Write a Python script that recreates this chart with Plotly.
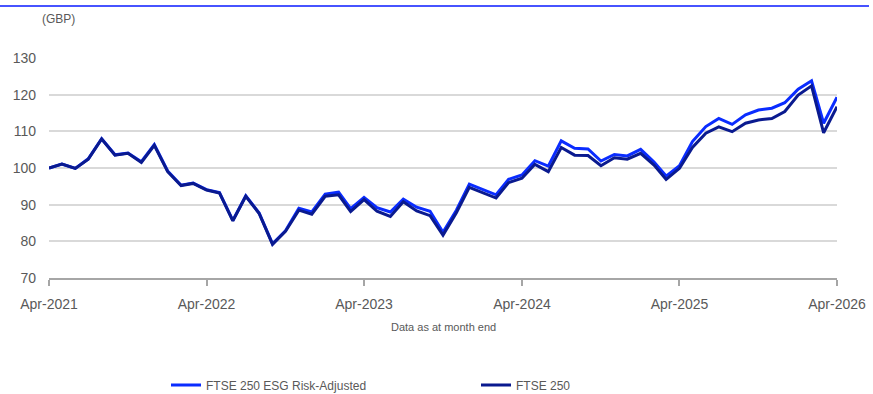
import plotly.graph_objects as go
import pandas as pd

dates = pd.date_range("2021-04-01", "2026-04-01", freq="MS").strftime("%Y-%m-%d").tolist()

ftse250 = [100.0, 101.1, 99.9, 102.4, 107.9, 103.5, 104.0, 101.5, 106.2, 99.0,
           95.2, 95.8, 94.0, 93.2, 85.6, 92.3, 87.6, 79.2, 82.7, 88.5,
           87.4, 92.3, 92.7, 88.1, 91.4, 88.2, 86.8, 90.8, 88.3, 87.0,
           81.7, 87.8, 94.7, 93.2, 91.8, 96.0, 97.2, 101.0, 99.0, 105.6,
           103.5, 103.4, 100.6, 102.8, 102.4, 104.0, 100.8, 96.9, 99.9, 105.6,
           109.5, 111.2, 109.9, 112.2, 113.1, 113.5, 115.4, 119.9, 122.4, 109.6,
           116.7]
esg_risk_adj = [100.0, 101.1, 99.9, 102.5, 108.0, 103.6, 104.1, 101.7, 106.4, 99.2,
                95.3, 95.9, 94.1, 93.3, 85.7, 92.4, 87.7, 79.3, 82.9, 89.0,
                88.0, 92.9, 93.4, 88.9, 92.0, 89.2, 88.0, 91.5, 89.3, 88.2,
                82.5, 88.5, 95.6, 94.1, 92.7, 96.9, 98.1, 102.0, 100.5, 107.4,
                105.4, 105.2, 101.9, 103.7, 103.3, 105.1, 101.6, 97.8, 100.6, 107.2,
                111.3, 113.5, 111.9, 114.5, 115.8, 116.3, 117.8, 121.5, 123.8, 112.2,
                119.3]

tick_dates = ["2021-04-01", "2022-04-01", "2023-04-01", "2024-04-01", "2025-04-01", "2026-04-01"]
tick_labels = ["Apr-2021", "Apr-2022", "Apr-2023", "Apr-2024", "Apr-2025", "Apr-2026"]
y_ticks = [70, 80, 90, 100, 110, 120, 130]

FONT = "Liberation Sans, Arial, sans-serif"
GREY = "#595959"

fig = go.Figure()
fig.add_trace(go.Scatter(x=dates, y=esg_risk_adj, mode="lines", name="FTSE 250 ESG Risk-Adjusted",
                         line=dict(color="#0a2cff", width=3)))
fig.add_trace(go.Scatter(x=dates, y=ftse250, mode="lines", name="FTSE 250",
                         line=dict(color="#0a1a8f", width=3)))

W, H = 873, 394
L, R, T, B = 49, 36, 58, 116
pw, ph = W - L - R, H - T - B

def px_x(p):
    return (p - L) / pw

def px_y(p):
    return (H - B - p) / ph

fig.update_layout(
    width=W, height=H,
    margin=dict(l=L, r=R, t=T, b=B, autoexpand=False),
    paper_bgcolor="white", plot_bgcolor="white",
    font=dict(family=FONT, color=GREY),
    showlegend=True,
    legend=dict(orientation="h", x=px_x(166), xanchor="left", y=px_y(385), yanchor="middle",
                entrywidth=265, entrywidthmode="pixels",
                font=dict(family="Liberation Sans Narrow, Liberation Sans, Arial", size=12, color=GREY),
                bgcolor="rgba(0,0,0,0)"),
    xaxis=dict(type="date", range=[dates[0], dates[-1]], tickvals=tick_dates, ticktext=tick_labels,
               showgrid=False, showline=True, linecolor="#a6a6a6", linewidth=1.5,
               ticks="outside", ticklen=6, tickcolor="#a6a6a6", tickwidth=1.5,
               tickfont=dict(size=14, color=GREY), ticklabelstandoff=6, zeroline=False,
               automargin=False),
    yaxis=dict(range=[70, 130], tickvals=y_ticks, showgrid=True, gridcolor="#d9d9d9", gridwidth=1.5,
               showline=False, zeroline=False, ticks="", tickfont=dict(size=14, color=GREY),
               ticklabelstandoff=12, automargin=False),
    shapes=[dict(type="line", xref="paper", yref="paper", x0=px_x(0), x1=px_x(869),
                 y0=px_y(6), y1=px_y(6), line=dict(color="#0a1aff", width=1.5))],
    annotations=[
        dict(text="(GBP)", xref="paper", yref="paper", x=px_x(40), y=px_y(19), xanchor="left",
             yanchor="middle", showarrow=False, font=dict(size=12, color=GREY)),
        dict(text="Data as at month end", xref="paper", yref="paper", x=px_x(443), y=px_y(327),
             xanchor="center", yanchor="middle", showarrow=False, font=dict(size=11, color=GREY)),
    ],
)

fig.write_html("out.html")
